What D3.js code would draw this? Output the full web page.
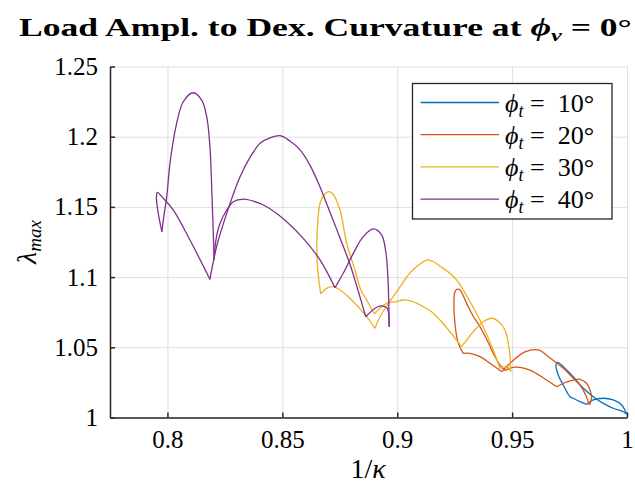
<!DOCTYPE html>
<html>
<head>
<meta charset="utf-8">
<script src="https://cdn.jsdelivr.net/npm/d3@7"></script>
<style>
  body { margin: 0; background: #fff; }
  text { font-family: "Liberation Serif", "DejaVu Serif", serif; fill: #000; }
</style>
</head>
<body>
<svg id="chart" width="635" height="490"></svg>
<script>
// phi_t values and MATLAB default colours
const angles = [10, 20, 30, 40];
const colors = ["#0072BD", "#D95319", "#EDB120", "#7E2F8E"];
const xTicks = [0.8, 0.85, 0.9, 0.95, 1];
const yTicks = [1, 1.05, 1.1, 1.15, 1.2, 1.25];

// each curve is a closed path, split into smooth pieces at its cusps
const curve10 = [
  [[0.9766,1.0137],[0.9795,1.0113],[0.9826,1.0094]],
  [[0.9826,1.0094],[0.9853,1.0125],[0.9897,1.0137],[0.9940,1.0125],[0.9977,1.0089],[0.9998,1.0025]],
  [[0.9998,1.0025],[0.9984,1.0041],[0.9940,1.0066],[0.9897,1.0101],[0.9853,1.0148],[0.9810,1.0208],
   [0.9766,1.0291],[0.9723,1.0362],[0.9697,1.0393],[0.9691,1.0374],[0.9701,1.0303],[0.9730,1.0208],
   [0.9752,1.0148],[0.9766,1.0137]]
];
const curve20 = [
  [[0.9287,1.0457],[0.9266,1.0528],[0.9251,1.0671],[0.9247,1.0837],[0.9251,1.0894],[0.9259,1.0913],
   [0.9273,1.0908],[0.9302,1.0813],[0.9330,1.0723],[0.9360,1.0647],[0.9391,1.0552],[0.9418,1.0457],
   [0.9447,1.0374],[0.9469,1.0335]],
  [[0.9469,1.0335],[0.9512,1.0359],[0.9578,1.0338],[0.9650,1.0267],[0.9694,1.0219]],
  [[0.9694,1.0219],[0.9723,1.0244],[0.9766,1.0267],[0.9795,1.0272],[0.9824,1.0244],[0.9839,1.0196],
   [0.9846,1.0137],[0.9837,1.0089]],
  [[0.9837,1.0089],[0.9831,1.0113],[0.9817,1.0172],[0.9795,1.0231],[0.9766,1.0279],[0.9723,1.0350],
   [0.9665,1.0424],[0.9614,1.0481],[0.9556,1.0467],[0.9491,1.0386],[0.9455,1.0326]],
  [[0.9455,1.0326],[0.9404,1.0386],[0.9360,1.0433],[0.9317,1.0457],[0.9287,1.0457]]
];
const curve30 = [
  [[0.8667,1.0880],[0.8652,1.1098],[0.8652,1.1335],[0.8664,1.1526],[0.8681,1.1585],[0.8700,1.1608],
   [0.8720,1.1592],[0.8751,1.1478],[0.8780,1.1241],[0.8816,1.1051],[0.8842,1.0908],[0.8867,1.0837],
   [0.8900,1.0737]],
  [[0.8900,1.0737],[0.8925,1.0778],[0.8954,1.0813],[0.8998,1.0825],[0.9026,1.0837],[0.9069,1.0826],
   [0.9114,1.0789],[0.9151,1.0751],[0.9186,1.0694],[0.9234,1.0602],[0.9280,1.0504]],
  [[0.9280,1.0504],[0.9331,1.0611],[0.9373,1.0680],[0.9411,1.0707],[0.9443,1.0680],[0.9469,1.0623],
   [0.9488,1.0481],[0.9494,1.0326]],
  [[0.9494,1.0326],[0.9487,1.0353],[0.9460,1.0360],[0.9447,1.0350]],
  [[0.9447,1.0350],[0.9418,1.0481],[0.9360,1.0694],[0.9308,1.0851],[0.9259,1.0979],[0.9199,1.1064],
   [0.9135,1.1122],[0.9099,1.1093],[0.9055,1.1029],[0.9003,1.0908],[0.8969,1.0830],[0.8925,1.0718],
   [0.8903,1.0635]],
  [[0.8903,1.0635],[0.8867,1.0718],[0.8794,1.0849],[0.8751,1.0908],[0.8722,1.0932],[0.8694,1.0922],
   [0.8667,1.0880]]
];
const curve40 = [
  [[0.8185,1.0984],[0.8098,1.1264],[0.8025,1.1478],[0.7982,1.1561],[0.7956,1.1604],[0.7952,1.1563],
   [0.7960,1.1454],[0.7976,1.1323]],
  [[0.7976,1.1323],[0.7985,1.1442],[0.7997,1.1573],[0.8011,1.1810],[0.8040,1.2095],[0.8069,1.2249],
   [0.8112,1.2313],[0.8149,1.2261],[0.8171,1.2142],[0.8185,1.1929],[0.8194,1.1573],[0.8200,1.1288],
   [0.8203,1.1122]],
  [[0.8203,1.1122],[0.8211,1.1264],[0.8229,1.1383],[0.8258,1.1478],[0.8287,1.1537],[0.8330,1.1556],
   [0.8381,1.1538],[0.8432,1.1501],[0.8519,1.1395],[0.8591,1.1276],[0.8664,1.1122],[0.8729,1.0924]],
  [[0.8729,1.0924],[0.8765,1.1027],[0.8809,1.1169],[0.8852,1.1288],[0.8896,1.1343],[0.8932,1.1300],
   [0.8951,1.1170],[0.8960,1.0979],[0.8965,1.0647]],
  [[0.8965,1.0647],[0.8957,1.0778],[0.8939,1.0794],[0.8911,1.0785],[0.8863,1.0718]],
  [[0.8863,1.0718],[0.8829,1.0908],[0.8794,1.1093],[0.8751,1.1279],[0.8707,1.1464],[0.8664,1.1642],
   [0.8620,1.1798],[0.8577,1.1906],[0.8533,1.1969],[0.8490,1.2007],[0.8446,1.1991],[0.8403,1.1953],
   [0.8360,1.1855],[0.8316,1.1715],[0.8258,1.1454],[0.8214,1.1217],[0.8185,1.0984]]
];
const curves = [curve10, curve20, curve30, curve40];

const svg = d3.select("#chart");
const mLeft = 110, mRight = 627, mTop = 66.5, mBottom = 417.5;

const x = d3.scaleLinear().domain([0.775, 1]).range([mLeft, mRight]);
const y = d3.scaleLinear().domain([1, 1.25]).range([mBottom, mTop]);

// grid
svg.append("g")
  .attr("transform", `translate(0,${mBottom})`)
  .call(d3.axisBottom(x).tickValues(xTicks).tickSize(-(mBottom - mTop)).tickFormat(""))
  .call(g => g.select(".domain").remove())
  .call(g => g.selectAll("line").attr("stroke", "#dfdfdf").attr("stroke-width", 1));
svg.append("g")
  .attr("transform", `translate(${mLeft},0)`)
  .call(d3.axisLeft(y).tickValues(yTicks).tickSize(-(mRight - mLeft)).tickFormat(""))
  .call(g => g.select(".domain").remove())
  .call(g => g.selectAll("line").attr("stroke", "#dfdfdf").attr("stroke-width", 1));

// curves
const line = d3.line()
  .x(d => x(d[0]))
  .y(d => y(d[1]))
  .curve(d3.curveCatmullRom.alpha(0.5));

curves.forEach((segs, i) => {
  svg.append("g").selectAll("path")
    .data(segs)
    .join("path")
    .attr("d", line)
    .attr("fill", "none")
    .attr("stroke", colors[i])
    .attr("stroke-width", 1.3)
    .attr("stroke-linejoin", "round");
});

// axes (inward ticks, MATLAB style)
const fmt = d => d3.format("")(d);
const styleAxis = g => {
  g.attr("font-family", null);
  g.select(".domain").attr("stroke", "#262626").attr("stroke-width", 1.5);
  g.selectAll("line").attr("stroke", "#262626").attr("stroke-width", 1.5);
  g.selectAll("text").style("font-family", "'Liberation Serif', serif").style("font-size", "25px").attr("fill", "#000");
};
svg.append("g")
  .attr("transform", `translate(0,${mBottom})`)
  .call(d3.axisBottom(x).tickValues(xTicks).tickSizeInner(-5).tickSizeOuter(0).tickPadding(13).tickFormat(fmt))
  .call(styleAxis);
svg.append("g")
  .attr("transform", `translate(${mLeft},0)`)
  .call(d3.axisLeft(y).tickValues(yTicks).tickSizeInner(-5).tickSizeOuter(0).tickPadding(12).tickFormat(fmt))
  .call(styleAxis);

// title
const title = svg.append("text")
  .attr("x", 19).attr("y", 36)
  .attr("font-size", 25).attr("font-weight", "bold");
title.append("tspan").text("Load Ampl. to Dex. Curvature at ");
title.append("tspan").attr("font-style", "italic").text("ϕ");
title.append("tspan").attr("font-style", "italic").attr("font-size", 17).attr("dy", 5).text("v");
title.append("tspan").attr("dy", -5).text(" = 0°");
const tw = title.node().getComputedTextLength();
title.attr("transform", `translate(19,0) scale(${613 / tw},1) translate(-19,0)`);

// axis labels
const xl = svg.append("text")
  .attr("x", 368).attr("y", 478)
  .attr("text-anchor", "middle").attr("font-size", 28);
xl.append("tspan").text("1/");
xl.append("tspan").attr("font-style", "italic").text("κ");

const yl = svg.append("text")
  .attr("transform", `translate(36,${(mTop + mBottom) / 2}) rotate(-90)`)
  .attr("text-anchor", "middle").attr("font-size", 28);
yl.append("tspan").attr("font-style", "italic").text("λ");
yl.append("tspan").attr("font-style", "italic").attr("font-size", 19).attr("dy", 5).text("max");

// legend
const lg = svg.append("g");
lg.append("rect")
  .attr("x", 412.5).attr("y", 83.5).attr("width", 199.5).attr("height", 135.5)
  .attr("fill", "#fff").attr("stroke", "#262626").attr("stroke-width", 1.3);
angles.forEach((a, i) => {
  const ly = 102.5 + i * 32.2;
  lg.append("line")
    .attr("x1", 420.5).attr("x2", 499).attr("y1", ly).attr("y2", ly)
    .attr("stroke", colors[i]).attr("stroke-width", 1.3);
  const t = lg.append("text").attr("x", 505).attr("y", ly + 9).attr("font-size", 26);
  t.append("tspan").attr("font-style", "italic").text("ϕ");
  t.append("tspan").attr("font-style", "italic").attr("font-size", 18).attr("dy", 5).text("t");
  t.append("tspan").attr("dy", -5).text("\u00a0=\u00a0\u00a0" + a + "°");
});
</script>
</body>
</html>
